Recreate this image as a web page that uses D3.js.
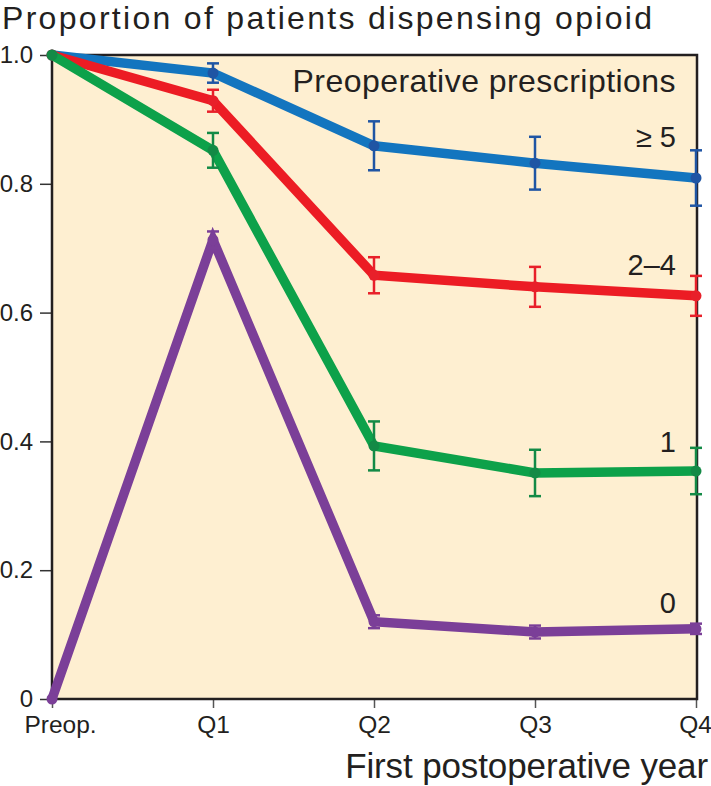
<!DOCTYPE html>
<html><head><meta charset="utf-8">
<script src="https://cdn.jsdelivr.net/npm/d3@7"></script>
<style>body{margin:0;background:#fff}svg{display:block}text{font-family:"Liberation Sans",Arial,Helvetica,sans-serif;fill:#231F20}</style>
</head><body>
<script>
const categories = ["Preop.", "Q1", "Q2", "Q3", "Q4"];
const yTicks = [0, 0.2, 0.4, 0.6, 0.8, 1.0];
const yTickLabels = ["0", "0.2", "0.4", "0.6", "0.8", "1.0"];
const seriesNames = ["≥ 5", "2–4", "1", "0"];
const seriesColors = ["#1375BF", "#EC1C24", "#0DA14A", "#7B3F98"];
const errColors = ["#1F55A4", "#E8202A", "#138A46", "#7B3F98"];
const valuesGE5 = [1.0, 0.972, 0.859, 0.832, 0.809];
const errGE5 = [0, 0.015, 0.038, 0.041, 0.043];
const values2to4 = [1.0, 0.929, 0.658, 0.640, 0.626];
const err2to4 = [0, 0.017, 0.028, 0.031, 0.031];
const values1 = [1.0, 0.852, 0.393, 0.351, 0.354];
const err1 = [0, 0.027, 0.038, 0.036, 0.036];
const values0 = [0.0, 0.713, 0.120, 0.104, 0.109];
const err0 = [0, 0.013, 0.010, 0.010, 0.008];
const seriesValues = [valuesGE5, values2to4, values1, values0];
const seriesErrors = [errGE5, err2to4, err1, err0];
const labelValuesY = [0.857, 0.658, 0.384, 0.134];

const W = 711, H = 786;
const svg = d3.select("body").append("svg").attr("width", W).attr("height", H);
const x = d3.scalePoint().domain(categories).range([52, 696]);
const y = d3.scaleLinear().domain([0, 1]).range([699, 55]);

function fit(sel, target) {
  const n = sel.text().length;
  const len = sel.node().getComputedTextLength();
  sel.attr("letter-spacing", ((target - len) / (n - 1)).toFixed(3));
}

// background
svg.append("rect").attr("x", 52).attr("y", 55).attr("width", 645).attr("height", 644)
  .attr("fill", "#FEEFD1");

// y axis
const yAxis = d3.axisLeft(y).tickValues(yTicks).tickFormat((d, i) => yTickLabels[i]).tickSize(12).tickPadding(7);
const gy = svg.append("g").attr("transform", "translate(52,0)").call(yAxis);
gy.select(".domain").remove();
gy.attr("font-size", null).attr("font-family", null);
gy.selectAll(".tick line").attr("stroke", "#333").attr("stroke-width", 1.5);
gy.selectAll(".tick text").attr("font-size", 24).attr("fill", "#231F20");

// x axis
const xAxis = d3.axisBottom(x).tickSize(9).tickPadding(6);
const gx = svg.append("g").attr("transform", "translate(0,699)").call(xAxis);
gx.select(".domain").remove();
gx.attr("font-size", null).attr("font-family", null);
gx.selectAll(".tick line").attr("stroke", "#555").attr("stroke-width", 1.5);
gx.selectAll(".tick text").attr("font-size", 24.5).attr("fill", "#231F20").attr("y", 34).attr("dy", null)
  .attr("dx", (d, i) => i === 0 ? 8 : (i === categories.length - 1 ? -1 : 0));

// frame
svg.append("rect").attr("x", 52).attr("y", 55).attr("width", 645).attr("height", 644)
  .attr("fill", "none").attr("stroke", "#231F20").attr("stroke-width", 2.5);

const line = d3.line().x((d, i) => x(categories[i])).y(d => y(d));

seriesValues.forEach((vals, s) => {
  const g = svg.append("g");
  g.append("path").datum(vals).attr("d", line).attr("fill", "none")
    .attr("stroke", seriesColors[s]).attr("stroke-width", 9.5).attr("stroke-linejoin", "miter");
  vals.forEach((v, i) => {
    const e = seriesErrors[s][i];
    const cx = x(categories[i]);
    if (e > 0) {
      g.append("line").attr("x1", cx).attr("x2", cx).attr("y1", y(v - e)).attr("y2", y(v + e))
        .attr("stroke", errColors[s]).attr("stroke-width", 2.5);
      [v - e, v + e].forEach(t => g.append("line").attr("x1", cx - 6).attr("x2", cx + 6)
        .attr("y1", y(t)).attr("y2", y(t)).attr("stroke", errColors[s]).attr("stroke-width", 2.5));
    }
    g.append("circle").attr("cx", cx).attr("cy", y(v)).attr("r", 5.5).attr("fill", errColors[s]);
  });
});

// series labels
seriesNames.forEach((n, s) => {
  svg.append("text").attr("x", 676).attr("y", y(labelValuesY[s])).attr("text-anchor", "end")
    .attr("font-size", 29).text(n);
});

const t1 = svg.append("text").attr("x", 676).attr("y", 92).attr("text-anchor", "end").attr("font-size", 32)
  .text("Preoperative prescriptions");
fit(t1, 383);
const t2 = svg.append("text").attr("x", 2).attr("y", 29).attr("font-size", 32)
  .text("Proportion of patients dispensing opioid");
fit(t2, 650);
const t3 = svg.append("text").attr("x", 708).attr("y", 778).attr("text-anchor", "end").attr("font-size", 35)
  .text("First postoperative year");
fit(t3, 363);
</script>
</body></html>
